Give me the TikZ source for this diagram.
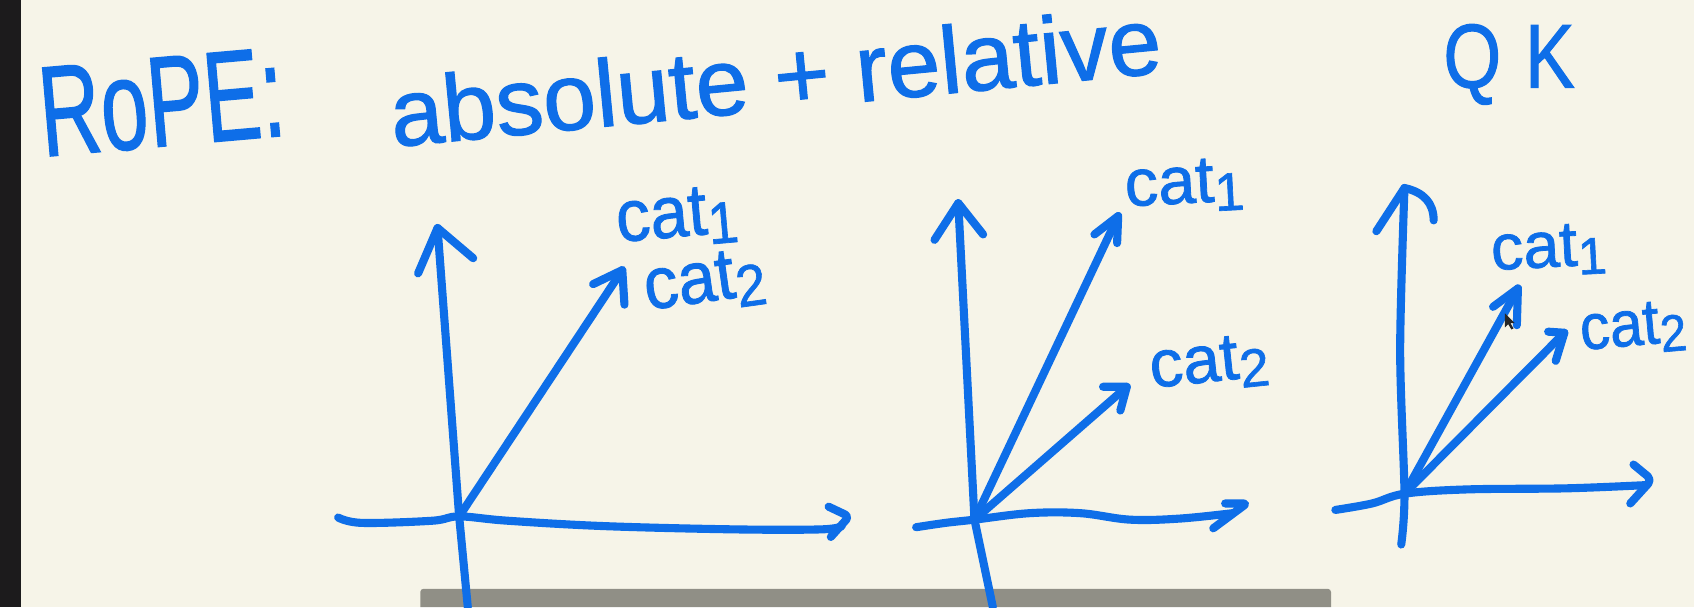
\documentclass[tikz,border=0pt]{standalone}
\usepackage{fontspec}
\setmainfont{Liberation Sans}
\newfontfamily\hand[FakeBold=1.2]{Liberation Sans}
\usepackage{graphicx}
\usetikzlibrary{calc}
\definecolor{ink}{RGB}{14,110,232}
\definecolor{paper}{RGB}{246,244,232}
\definecolor{strip}{RGB}{28,27,28}
\definecolor{barc}{RGB}{144,143,134}
\newcommand{\sbx}[1]{\raisebox{-0.14em}{\scalebox{0.8}{#1}}}
\begin{document}
\begin{tikzpicture}[x=1pt,y=-1pt,
  pen/.style={draw=ink,line width=7.5pt,line cap=round,line join=round},
  hand/.style={text=ink,inner sep=0pt,outer sep=0pt,anchor=base west},
]
\useasboundingbox (0,0) rectangle (1568,562);
\fill[paper] (0,0) rectangle (1568,562);
\fill[strip] (0,0) rectangle (19,562);
% grey bar
\fill[barc] (389,562) {[rounded corners=3pt] -- (389,545) -- (1232,545)} -- (1232,562) -- cycle;

% ---------- texts ----------
\node[hand, rotate=5, font=\hand\fontsize{119}{119}\selectfont] (title) at (40,145) {\scalebox{0.66}[1]{RoPE:}};
\node[hand, rotate=5.5, font=\hand\fontsize{88}{88}\selectfont] (abs) at (364,136) {absolute + relative};
\node[hand, font=\hand\fontsize{84}{84}\selectfont] (qk) at (1336,81) {\scalebox{0.82}[1]{Q\hspace{0.32em}K}};

% ---------- plot 1 ----------
\coordinate (O1) at (425,478);
\coordinate (Y1b) at (433,562);
\coordinate (Y1t) at (405,211);
\coordinate (X1l) at (313,479);
\coordinate (X1r) at (779,487);
\coordinate (X1h) at (786,478);
\coordinate (V1) at (576,250);
\draw[pen] (Y1b) -- (O1) -- (Y1t);
\draw[pen] ($(Y1t)+(-18,42)$) -- (Y1t) -- ($(Y1t)+(33,28)$);
\draw[pen] plot[smooth, tension=0.6] coordinates {(X1l) (335,484) (400,482) (O1) (470,482) (560,487) (680,490) (760,490) (X1r)};
\draw[pen, rounded corners=4pt] ($(X1h)+(-19,-9)$) -- (X1h) -- ($(X1h)+(-17,19)$);
\draw[pen] (O1) -- (V1);
\draw[pen] ($(V1)+(-27,13)$) -- (V1) -- ($(V1)+(2,32)$);
\node[hand, rotate=5, font=\hand\fontsize{68}{68}\selectfont] (p1c1) at (572,224) {\scalebox{0.93}[1]{cat\sbx{1}}};
\node[hand, rotate=8, font=\hand\fontsize{68}{68}\selectfont] (p1c2) at (599,287) {\scalebox{0.93}[1]{cat\sbx{2}}};

% ---------- plot 2 ----------
\coordinate (O2) at (902,481);
\coordinate (Y2b) at (919,562);
\coordinate (Y2t) at (887,188);
\coordinate (X2l) at (848,488);
\coordinate (X2r) at (1141,475);
\coordinate (X2h) at (1154,466);
\coordinate (V2a) at (1035,200);
\coordinate (V2b) at (1043,358);
\draw[pen] (Y2b) -- (O2) -- (Y2t);
\draw[pen] ($(Y2t)+(-22,34)$) -- (Y2t) -- ($(Y2t)+(23,29)$);
\draw[pen] plot[smooth, tension=0.6] coordinates {(X2l) (875,484) (O2) (953,475) (1000,475) (1046,481) (1092,480) (X2r)};
\draw[pen, rounded corners=3pt] ($(X2h)+(-20,0)$) -- (X2h) -- ($(X2h)+(-31,23)$);
\draw[pen] (O2) -- (V2a);
\draw[pen] ($(V2a)+(-22,17)$) -- (V2a) -- ($(V2a)+(-1,25)$);
\draw[pen] (O2) -- (V2b);
\draw[pen] ($(V2b)+(-22,0)$) -- (V2b) -- ($(V2b)+(-6,22)$);
\node[hand, rotate=3, font=\hand\fontsize{62}{62}\selectfont] (p2c1) at (1042,191) {cat\sbx{1}};
\node[hand, rotate=6, font=\hand\fontsize{62}{62}\selectfont] (p2c2) at (1066,359) {cat\sbx{2}};

% ---------- plot 3 ----------
\coordinate (O3) at (1300,457);
\coordinate (Y3b) at (1297,504);
\coordinate (Y3t) at (1300,174);
\coordinate (X3l) at (1236,472);
\coordinate (X3r) at (1524,449);
\coordinate (X3h) at (1529,444);
\coordinate (V3a) at (1405,267);
\coordinate (V3b) at (1448,308);
\draw[pen] plot[smooth, tension=0.5] coordinates {(Y3b) (O3) (1296,324) (Y3t)};
\draw[pen] ($(Y3t)+(-26,40)$) -- (Y3t) .. controls ($(Y3t)+(18,4)$) and ($(Y3t)+(27,14)$) .. ($(Y3t)+(27,30)$);
\draw[pen] plot[smooth, tension=0.6] coordinates {(X3l) (1270,466) (O3) (1358,453) (1450,452) (X3r)};
\draw[pen, rounded corners=5pt] ($(X3h)+(-17,-14)$) -- (X3h) -- ($(X3h)+(-20,22)$);
\draw[pen] (O3) -- (V3a);
\draw[pen] ($(V3a)+(-23,17)$) -- (V3a) -- ($(V3a)+(-1,34)$);
\draw[pen] (O3) -- (V3b);
\draw[pen] ($(V3b)+(-15,-1)$) -- (V3b) -- ($(V3b)+(-8,26)$);
\node[hand, rotate=3, font=\hand\fontsize{60}{60}\selectfont] (p3c1) at (1381,250) {cat\sbx{1}};
\node[hand, rotate=5, font=\hand\fontsize{60}{60}\selectfont] (p3c2) at (1464,324) {\scalebox{0.92}[1]{cat\sbx{2}}};

% mouse cursor
\fill[black!85] (1393,290) -- ++(0,13) -- ++(3,-3) -- ++(3,5) -- ++(2,-1) -- ++(-3,-5) -- ++(4,0) -- cycle;
\end{tikzpicture}
\end{document}
